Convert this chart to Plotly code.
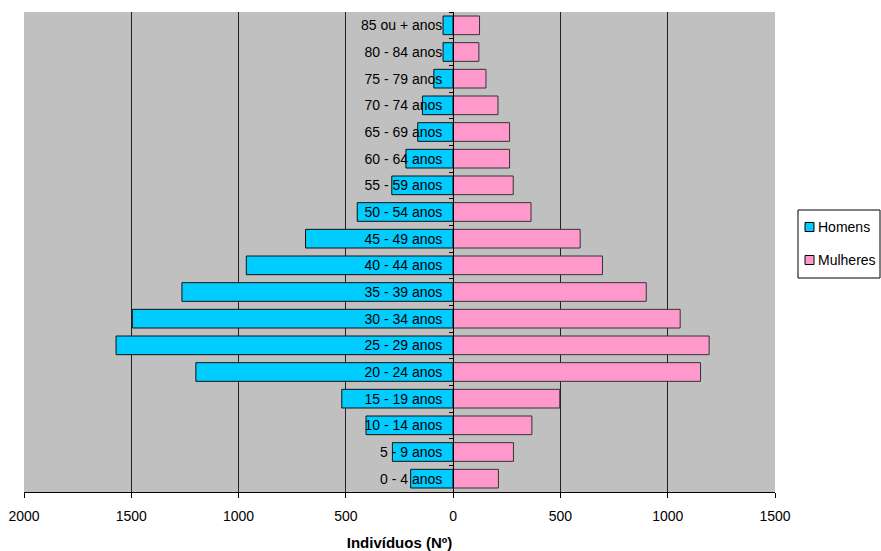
import plotly.graph_objects as go

categorias = ["0 - 4 anos", "5 - 9 anos", "10 - 14 anos", "15 - 19 anos", "20 - 24 anos",
              "25 - 29 anos", "30 - 34 anos", "35 - 39 anos", "40 - 44 anos", "45 - 49 anos",
              "50 - 54 anos", "55 - 59 anos", "60 - 64 anos", "65 - 69 anos", "70 - 74 anos",
              "75 - 79 anos", "80 - 84 anos", "85 ou + anos"]
homens = [198, 283, 406, 519, 1199, 1571, 1495, 1264, 964, 688, 447, 286, 220, 165, 143, 90, 47, 47]
mulheres = [211, 281, 367, 497, 1153, 1193, 1058, 900, 696, 592, 363, 280, 263, 263, 209, 153, 120, 123]
x_ticks = [-2000, -1500, -1000, -500, 0, 500, 1000, 1500]
x_tick_labels = ["2000", "1500", "1000", "500", "0", "500", "1000", "1500"]
x_min, x_max = -2000, 1500
series_names = ["Homens", "Mulheres"]
series_colors = ["#00CCFF", "#FF99CC"]

W, H = 881, 551
ml, mr, mt, mb = 24, 106, 12, 59
pw, ph = W - ml - mr, H - mt - mb


def px2paper_x(px):
    return (px - ml) / pw


def px2paper_y(py):
    return (H - mb - py) / ph


fig = go.Figure()
fig.add_trace(go.Bar(
    y=categorias, x=[-v for v in homens], orientation="h", name=series_names[0],
    marker=dict(color=series_colors[0], line=dict(color="#111111", width=1)),
    customdata=homens, hovertemplate="%{y}: %{customdata}<extra>Homens</extra>"))
fig.add_trace(go.Bar(
    y=categorias, x=mulheres, orientation="h", name=series_names[1],
    marker=dict(color=series_colors[1], line=dict(color="#333333", width=1)),
    hovertemplate="%{y}: %{x}<extra>Mulheres</extra>"))

# y axis positioned at x = 0 in data terms
pos0 = (0 - x_min) / (x_max - x_min)

shapes = []
annotations = []
# legend box
shapes.append(dict(type="rect", xref="paper", yref="paper",
                   x0=px2paper_x(798), x1=px2paper_x(880),
                   y0=px2paper_y(278), y1=px2paper_y(210),
                   line=dict(color="black", width=1), fillcolor="white", layer="above"))
for i, (name, col) in enumerate(zip(series_names, series_colors)):
    cy = 227 + i * 33
    shapes.append(dict(type="rect", xref="paper", yref="paper",
                       x0=px2paper_x(805), x1=px2paper_x(814),
                       y0=px2paper_y(cy + 4.5), y1=px2paper_y(cy - 4.5),
                       line=dict(color="black", width=1), fillcolor=col, layer="above"))
    annotations.append(dict(xref="paper", yref="paper", x=px2paper_x(816), y=px2paper_y(cy),
                            xanchor="left", yanchor="middle", text=name, showarrow=False,
                            font=dict(size=14, color="black")))

fig.update_layout(
    width=W, height=H,
    margin=dict(l=ml, r=mr, t=mt, b=mb, pad=0, autoexpand=False),
    paper_bgcolor="white", plot_bgcolor="#C0C0C0",
    barmode="overlay", bargap=0.3,
    font=dict(family="Liberation Sans, Arial", size=14, color="#000000"),
    showlegend=False,
    shapes=shapes, annotations=annotations,
    xaxis=dict(
        range=[x_min, x_max], tickvals=x_ticks, ticktext=x_tick_labels,
        showgrid=True, gridcolor="#222222", gridwidth=1, zeroline=False,
        showline=True, linecolor="black", linewidth=1,
        ticks="outside", ticklen=5, tickcolor="black",
        tickfont=dict(size=14), ticklabelstandoff=6,
        title=dict(text="<b>Indivíduos (Nº)</b>", font=dict(size=15), standoff=14),
        automargin=False,
        fixedrange=True,
    ),
    yaxis=dict(
        type="category", categoryorder="array", categoryarray=categorias,
        anchor="free", position=pos0,
        showline=True, linecolor="black", linewidth=1,
        ticks="outside", ticklen=4, tickcolor="black", tickson="boundaries",
        showgrid=False, zeroline=False,
        tickfont=dict(size=14), ticklabelstandoff=8,
        automargin=False,
        fixedrange=True,
    ),
)

fig.write_html("out.html")
